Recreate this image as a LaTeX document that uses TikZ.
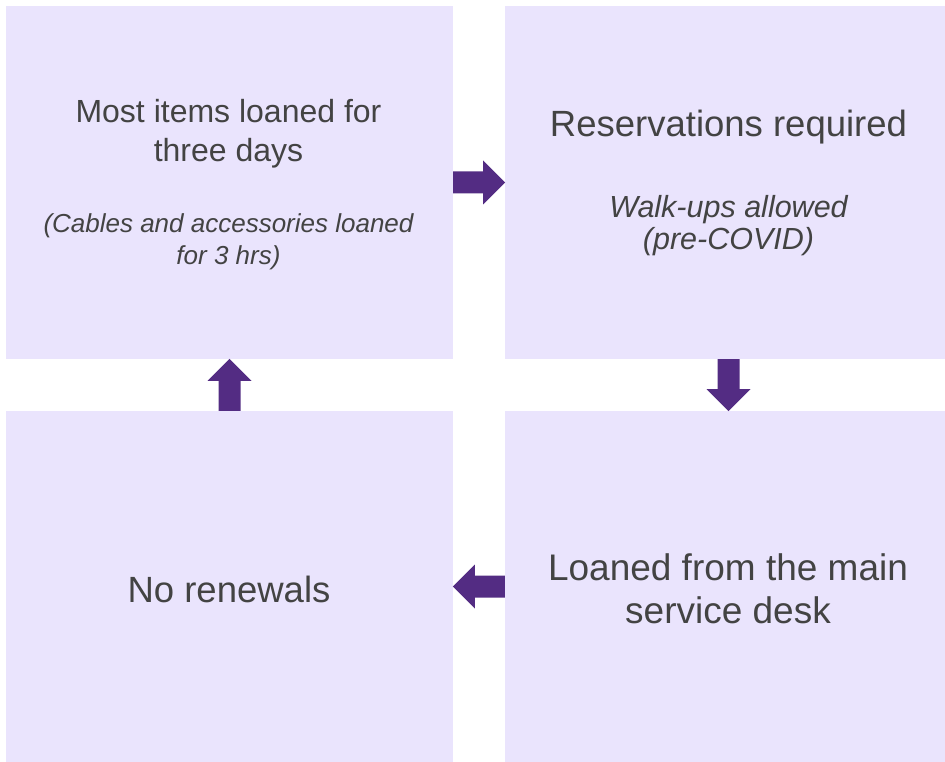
\documentclass[tikz,border=0pt]{standalone}
\usepackage{fontspec}
\setmainfont{Liberation Sans}
\definecolor{boxc}{HTML}{EAE4FD}
\definecolor{arrowc}{HTML}{532C83}
\definecolor{textc}{HTML}{434343}
\begin{document}
\begin{tikzpicture}[x=1pt,y=-1pt]
\tikzset{
  box/.style={fill=boxc, draw=none, inner sep=0pt},
  lbl/.style={anchor=base, inner sep=0pt, text=textc},
  barrow/.pic={\fill[arrowc] (0,-11) -- (30,-11) -- (30,-22) -- (52,0) -- (30,22) -- (30,11) -- (0,11) -- cycle;}
}
\useasboundingbox (0,0) rectangle (945,762);
\node[box, minimum width=447pt, minimum height=353pt] (tl) at (229.5,182.5) {};
\node[box, minimum width=440pt, minimum height=353pt] (tr) at (725,182.5) {};
\node[box, minimum width=447pt, minimum height=351pt] (bl) at (229.5,586.5) {};
\node[box, minimum width=440pt, minimum height=351pt] (br) at (725,586.5) {};

\node[lbl, font=\fontsize{32}{38}\selectfont] (tl1) at (228.5,123) {Most items loaned for};
\node[lbl, font=\fontsize{32}{38}\selectfont] (tl2) at (228.5,162) {three days};
\node[lbl, font=\fontsize{26}{31}\selectfont\itshape] (tl3) at (228.5,233) {(Cables and accessories loaned};
\node[lbl, font=\fontsize{26}{31}\selectfont\itshape] (tl4) at (228.5,264) {for 3 hrs)};

\node[lbl, font=\fontsize{36.5}{43}\selectfont] (tr1) at (728.5,137) {Reservations required};
\node[lbl, font=\fontsize{30.5}{36}\selectfont\itshape] (tr2) at (728.5,218) {Walk-ups allowed};
\node[lbl, font=\fontsize{30.5}{36}\selectfont\itshape] (tr3) at (728.5,249) {(pre-COVID)};

\node[lbl, font=\fontsize{37}{43}\selectfont] (br1) at (728,580) {Loaned from the main};
\node[lbl, font=\fontsize{37}{43}\selectfont] (br2) at (728,623) {service desk};

\node[lbl, font=\fontsize{36.5}{43}\selectfont] (bl1) at (229,602) {No renewals};

\pic at (tl.east) {barrow};
\pic[rotate=-90] at ([xshift=3.5pt]tr.south) {barrow};
\pic[rotate=180] at (br.west) {barrow};
\pic[rotate=90] at (bl.north) {barrow};
\end{tikzpicture}
\end{document}
